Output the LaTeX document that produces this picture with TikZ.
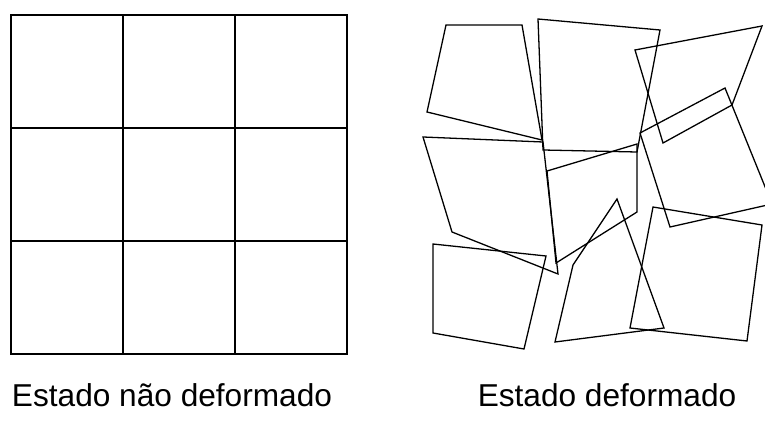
\documentclass[tikz,border=0pt]{standalone}
\usepackage{fontspec}
\setmainfont{Liberation Sans}
\usepackage{tikz}
\usetikzlibrary{positioning}
\tikzset{
  gridline/.style={line width=1.2pt, black},
  cell/.style={line width=1.1pt, black, line join=miter},
  caption/.style={anchor=base, font=\fontsize{27}{30}\selectfont, inner sep=0pt}
}

\begin{document}
\begin{tikzpicture}[x=0.03cm, y=-0.03cm]
  \clip (0,0) rectangle (765,427);
  \useasboundingbox (0,0) rectangle (765,427);

  % Undeformed 3x3 grid
  \draw[gridline] (11,15) rectangle (347,354);
  \foreach \x in {123,235} {
    \draw[gridline] (\x,15) -- (\x,354);
  }
  \foreach \y in {128,241} {
    \draw[gridline] (11,\y) -- (347,\y);
  }

  % Deformed cells, top row
  \draw[cell] (446,25) -- (522,25) -- (542,140) -- (427,112) -- cycle;
  \draw[cell] (538,19) -- (660,30) -- (637,152) -- (543,150) -- cycle;
  \draw[cell] (635,50) -- (762,26) -- (732,105) -- (663,143) -- cycle;

  % Deformed cells, middle row
  \draw[cell] (423,137) -- (543,142) -- (558,274) -- (452,232) -- cycle;
  \draw[cell] (547,171) -- (637,144) -- (637,212) -- (556,263) -- cycle;
  \draw[cell] (640,133) -- (725,88) -- (772,204) -- (670,227) -- cycle;

  % Deformed cells, bottom row
  \draw[cell] (433,244) -- (546,256) -- (524,349) -- (433,333) -- cycle;
  \draw[cell] (573,265) -- (617,199) -- (664,328) -- (555,342) -- cycle;
  \draw[cell] (653,207) -- (762,225) -- (747,341) -- (630,328) -- cycle;

  % Captions
  \node[caption] (undef) at (172,406) {Estado não deformado};
  \node[caption] (def) at (607,406) {Estado deformado};
\end{tikzpicture}
\end{document}
